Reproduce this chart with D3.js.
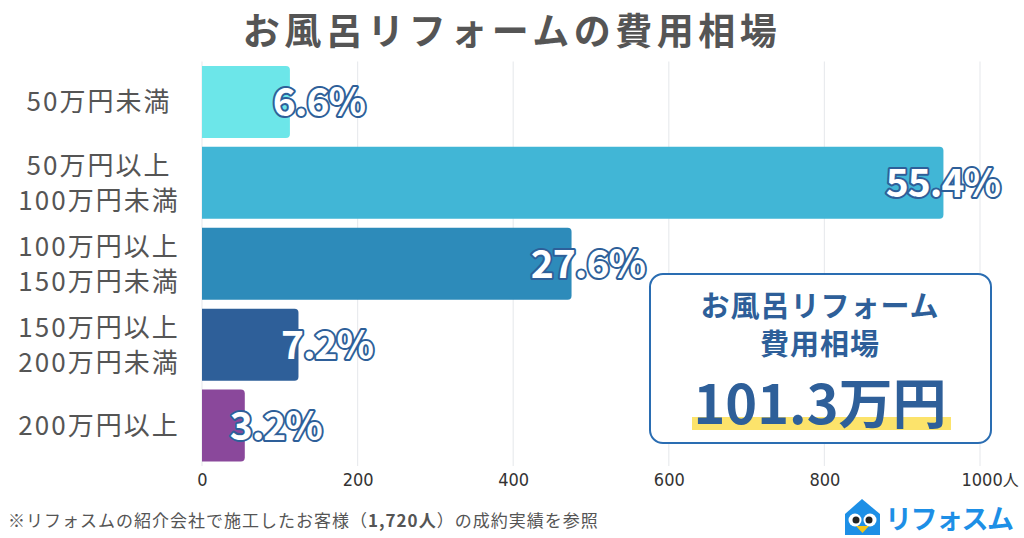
<!DOCTYPE html>
<html>
<head>
<meta charset="utf-8">
<script src="https://cdn.jsdelivr.net/npm/d3@7"></script>
<style>
  body { margin: 0; background: #fff; }
  svg { display: block; font-family: "Noto Sans CJK JP", "Noto Sans", sans-serif; }
</style>
</head>
<body>
<div id="chart-area"></div>
<script>
// Data
var categories = [
  ["50万円未満"],
  ["50万円以上", "100万円未満"],
  ["100万円以上", "150万円未満"],
  ["150万円以上", "200万円未満"],
  ["200万円以上"]
];
var counts = [113, 953, 475, 124, 55];          // 人
var barColors = ["#6ce6e9", "#41b6d6", "#2d8bba", "#2e5f99", "#8a489b"];
var xTicks = [0, 200, 400, 600, 800, 1000];
var total = 1720;
var averageCost = "101.3万円";

var width = 1024, height = 538;
var margin = { left: 202, right: 44, top: 61.5, bottom: 72 };

var svg = d3.select("#chart-area")
  .append("svg")
  .attr("width", width)
  .attr("height", height);

/* Title */
svg.append("text")
  .attr("x", 512)
  .attr("y", 45)
  .attr("text-anchor", "middle")
  .attr("font-size", "37px")
  .attr("font-weight", "bold")
  .attr("letter-spacing", "4.5px")
  .attr("fill", "#555")
  .text("お風呂リフォームの費用相場");

/* Scales */
var xScale = d3.scaleLinear()
  .domain([0, 1000])
  .range([margin.left, width - margin.right]);

var yScale = d3.scaleBand()
  .domain(d3.range(categories.length))
  .range([margin.top, height - margin.bottom])
  .paddingInner(0.11)
  .paddingOuter(0.055);

/* Gridlines */
svg.append("g")
  .selectAll("line")
  .data(xTicks).enter()
  .append("line")
  .attr("x1", d => xScale(d))
  .attr("x2", d => xScale(d))
  .attr("y1", margin.top)
  .attr("y2", height - margin.bottom)
  .attr("stroke", "#e9ebee")
  .attr("stroke-width", 1.2);

/* X axis */
var xAxis = d3.axisBottom(xScale)
  .tickValues(xTicks)
  .tickFormat(d3.format("d"))
  .tickSize(0)
  .tickPadding(0);

var xAxisGroup = svg.append("g")
  .attr("transform", "translate(0, 486)")
  .call(xAxis);
xAxisGroup.select(".domain").remove();
xAxisGroup.selectAll("text")
  .attr("y", 0)
  .attr("dy", 0)
  .attr("font-size", "18px")
  .attr("font-family", "'Liberation Sans Narrow', 'DejaVu Sans Condensed', sans-serif")
  .attr("fill", "#333");
// unit after the last tick
var lastTick = xAxisGroup.selectAll(".tick")
  .filter(d => d === 1000)
  .select("text");
lastTick.append("tspan")
  .attr("font-family", "'Noto Sans CJK JP', sans-serif")
  .attr("font-size", "16px")
  .text("人");
lastTick
  .attr("text-anchor", "start")
  .attr("x", -19);

/* Bars with rounded right end */
var r = 4;
function barPath(i) {
  var x0 = xScale(0), x1 = xScale(counts[i]);
  var y0 = yScale(i), y1 = y0 + yScale.bandwidth();
  return "M" + x0 + "," + y0 +
    "H" + (x1 - r) + "Q" + x1 + "," + y0 + " " + x1 + "," + (y0 + r) +
    "V" + (y1 - r) + "Q" + x1 + "," + y1 + " " + (x1 - r) + "," + y1 +
    "H" + x0 + "Z";
}

svg.append("g")
  .selectAll("path")
  .data(counts).enter()
  .append("path")
  .attr("d", (d, i) => barPath(i))
  .attr("fill", (d, i) => barColors[i]);

/* Category labels */
var catGroup = svg.append("g");
categories.forEach(function (lines, i) {
  var cy = yScale(i) + yScale.bandwidth() / 2;
  var lineH = 35;
  lines.forEach(function (t, j) {
    catGroup.append("text")
      .attr("x", 99)
      .attr("y", cy + (j - (lines.length - 1) / 2) * lineH)
      .attr("dy", "0.36em")
      .attr("text-anchor", "middle")
      .attr("font-size", "26px")
      .attr("letter-spacing", "2px")
      .attr("fill", "#555")
      .text(t);
  });
});

/* Value labels */
var pct = d3.format(".1f");
svg.append("g")
  .selectAll("text")
  .data(counts).enter()
  .append("text")
  .attr("x", d => xScale(d) + 42 - 0.045 * xScale(d))
  .attr("y", (d, i) => yScale(i) + yScale.bandwidth() / 2)
  .attr("dy", "0.36em")
  .attr("text-anchor", "middle")
  .attr("font-size", "39px")
  .attr("font-weight", "bold")
  .attr("letter-spacing", "-1px")
  .attr("fill", "#fff")
  .attr("stroke", "#2e5f99")
  .attr("stroke-width", 4)
  .attr("stroke-linejoin", "round")
  .attr("paint-order", "stroke")
  .text(d => pct(d / total * 100) + "%");

/* Summary box */
var box = svg.append("g");
box.append("rect")
  .attr("x", 650)
  .attr("y", 274)
  .attr("width", 341)
  .attr("height", 169)
  .attr("rx", 13)
  .attr("fill", "#fff")
  .attr("stroke", "#2a6db2")
  .attr("stroke-width", 2);

box.append("text")
  .attr("x", 820).attr("y", 317)
  .attr("text-anchor", "middle")
  .attr("font-size", "29px")
  .attr("font-weight", "bold")
  .attr("letter-spacing", "1px")
  .attr("fill", "#2e5f99")
  .text("お風呂リフォーム");

box.append("text")
  .attr("x", 820).attr("y", 355)
  .attr("text-anchor", "middle")
  .attr("font-size", "29px")
  .attr("font-weight", "bold")
  .attr("letter-spacing", "1px")
  .attr("fill", "#2e5f99")
  .text("費用相場");

box.append("rect")
  .attr("x", 692)
  .attr("y", 417)
  .attr("width", 259)
  .attr("height", 13)
  .attr("fill", "#fce36b");

box.append("text")
  .attr("x", 820).attr("y", 424)
  .attr("text-anchor", "middle")
  .attr("font-size", "54px")
  .attr("font-weight", "bold")
  .attr("fill", "#2e5f99")
  .text(averageCost);

/* Footnote */
var note = svg.append("text")
  .attr("x", 8)
  .attr("y", 527)
  .attr("font-size", "17px")
  .attr("letter-spacing", "1px")
  .attr("fill", "#555");
note.append("tspan").text("※リフォスムの紹介会社で施工したお客様（");
note.append("tspan").attr("font-weight", "bold").text(d3.format(",")(total) + "人");
note.append("tspan").text("）の成約実績を参照");

/* Logo */
var logo = svg.append("g");
logo.append("path")
  .attr("d", "M845,514 L862,499 L880,514 L880,535 L845,535 Z")
  .attr("fill", "#1d8fe6");
logo.append("circle").attr("cx", 855).attr("cy", 520).attr("r", 6.5).attr("fill", "#fff");
logo.append("circle").attr("cx", 870).attr("cy", 520).attr("r", 6.5).attr("fill", "#fff");
logo.append("circle").attr("cx", 856).attr("cy", 520).attr("r", 3.5).attr("fill", "#222");
logo.append("circle").attr("cx", 869).attr("cy", 520).attr("r", 3.5).attr("fill", "#222");
logo.append("path")
  .attr("d", "M856,526 L869,526 L862.5,533 Z")
  .attr("fill", "#f5c518");
logo.append("text")
  .attr("x", 885)
  .attr("y", 529)
  .attr("font-size", "27px")
  .attr("font-weight", "bold")
  .attr("letter-spacing", "-1.5px")
  .attr("fill", "#1d8fe6")
  .text("リフォスム");
</script>
</body>
</html>
